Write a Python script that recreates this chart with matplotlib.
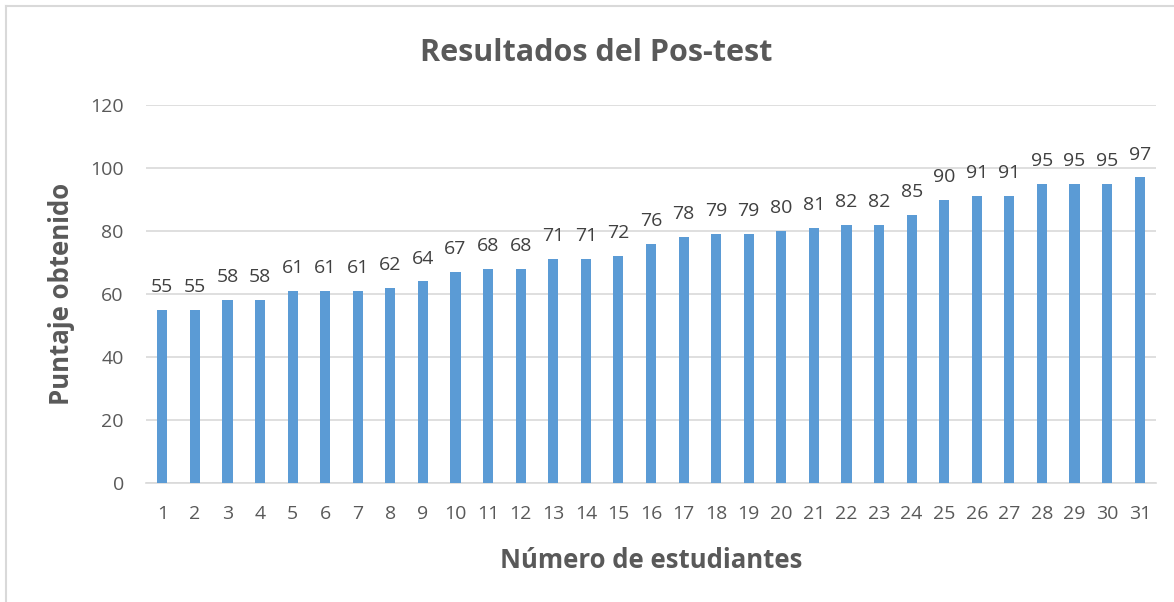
import matplotlib
matplotlib.use("Agg")
import matplotlib.pyplot as plt
from matplotlib.lines import Line2D

plt.rcParams['font.family'] = ['Open Sans', 'DejaVu Sans']

estudiantes = [str(i) for i in range(1, 32)]
puntajes = [55, 55, 58, 58, 61, 61, 61, 62, 64, 67, 68, 68, 71, 71, 72, 76,
            78, 79, 79, 80, 81, 82, 82, 85, 90, 91, 91, 95, 95, 95, 97]
yticks = [0, 20, 40, 60, 80, 100, 120]

text_col = '#595959'
bar_col = '#5B9BD5'
grid_col = '#D9D9D9'

fig = plt.figure(figsize=(11.74, 6.02), dpi=100)
ax = fig.add_axes([146/1174, 1-483/602, (1156-146)/1174, (483-105)/602])

x = list(range(len(estudiantes)))
bars = ax.bar(x, puntajes, width=0.31, color=bar_col, zorder=3)
for xi, v in zip(x, puntajes):
    ax.annotate(str(v), (xi, v), xytext=(0, 10), textcoords='offset points',
                ha='center', va='bottom', fontsize=14, color='#404040')

ax.set_xlim(-0.5, len(estudiantes) - 0.5)
ax.set_ylim(0, 120)
ax.set_yticks(yticks)
ax.set_xticks(x)
ax.set_xticklabels(estudiantes)
ax.tick_params(axis='both', length=0, labelsize=14, labelcolor=text_col)
ax.tick_params(axis='x', pad=16)
ax.tick_params(axis='y', pad=16)
ax.grid(axis='y', color=grid_col, linewidth=1.2, zorder=0)
for s in ['top', 'right', 'left']:
    ax.spines[s].set_visible(False)
ax.spines['bottom'].set_color(grid_col)
ax.spines['bottom'].set_linewidth(1.2)

ax.set_xlabel('Número de estudiantes', fontsize=18.5, fontweight='bold',
              color=text_col, labelpad=17)
ax.set_ylabel('Puntaje obtenido', fontsize=18.5, fontweight='bold',
              color=text_col, labelpad=11)
fig.text((417+775)/2/1174, 1-53/602, 'Resultados del Pos-test', ha='center',
         va='center', fontsize=22, fontweight='bold', color=text_col)

fig.add_artist(Line2D([6/1174, 6/1174], [0, 1-6/602], transform=fig.transFigure,
                      color='#D9D9D9', linewidth=1.5))
fig.add_artist(Line2D([6/1174, 1], [1-6/602, 1-6/602], transform=fig.transFigure,
                      color='#D9D9D9', linewidth=1.5))

fig.savefig('out.png', dpi=100, facecolor='white')
